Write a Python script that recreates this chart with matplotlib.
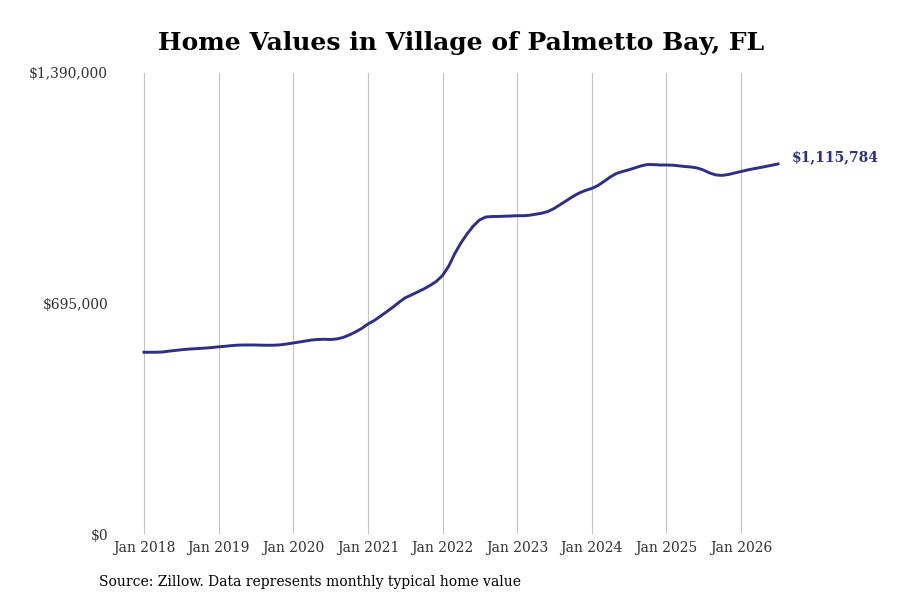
"""
Home value trend for Village of Palmetto Bay, FL.
Line chart of monthly typical home value (Zillow).
"""
from __future__ import annotations

import matplotlib

matplotlib.use("Agg")
import matplotlib.dates as mdates
import matplotlib.pyplot as plt
import pandas as pd

TITLE = "Home Values in Village of Palmetto Bay, FL"
SOURCE = "Source: Zillow. Data represents monthly typical home value"
LINE_COLOR = "#2e2e88"
GRID_COLOR = "#c4c4c4"
FIG_SIZE = (9, 6)

START_MONTH = "2018-01-01"

# monthly typical home value, thousands of dollars, Jan 2018 onward
VALUES_2018 = [548.0, 548.0, 548.0, 548.8, 551.2, 553.3, 555.4, 557.2, 558.4, 559.6, 560.8, 562.3]
VALUES_2019 = [564.4, 565.9, 567.8, 569.3, 569.9, 569.9, 569.9, 569.3, 569.0, 569.3, 570.5, 572.9]
VALUES_2020 = [575.9, 578.9, 581.9, 585.0, 586.5, 587.1, 586.5, 588.0, 592.5, 600.0, 609.1, 619.6]
VALUES_2021 = [633.2, 643.7, 655.8, 669.4, 682.9, 698.0, 711.6, 720.6, 729.7, 738.7, 749.3, 761.3]
VALUES_2022 = [779.4, 808.1, 844.3, 877.4, 904.6, 928.7, 946.8, 955.8, 957.3, 957.3, 958.2, 958.8]
VALUES_2023 = [959.7, 959.7, 961.0, 964.0, 967.3, 972.4, 981.4, 993.5, 1005.6, 1017.6, 1028.2, 1035.7]
VALUES_2024 = [1041.8, 1050.8, 1062.9, 1076.4, 1087.0, 1093.0, 1098.1, 1104.2, 1110.2, 1114.1, 1113.8, 1112.6]
VALUES_2025 = [1112.6, 1112.0, 1110.2, 1108.1, 1106.6, 1103.6, 1097.5, 1088.5, 1082.5, 1081.3, 1084.0, 1088.5]
VALUES_2026 = [1093.0, 1097.5, 1101.0, 1104.5, 1108.0, 1112.0, 1115.784]

Y_TICKS = [0, 695_000, 1_390_000]
Y_TICK_LABELS = ["$0", "$695,000", "$1,390,000"]
X_TICK_YEARS = list(range(2018, 2027))


def build_series() -> pd.Series:
    values = (
        VALUES_2018 + VALUES_2019 + VALUES_2020 + VALUES_2021 + VALUES_2022
        + VALUES_2023 + VALUES_2024 + VALUES_2025 + VALUES_2026
    )
    dates = pd.date_range(START_MONTH, periods=len(values), freq="MS")
    return pd.Series([v * 1000 for v in values], index=dates)


def plot_home_values(series: pd.Series, output_path: str = "out.png") -> plt.Figure:
    plt.rcParams["font.family"] = ["DejaVu Serif"]

    fig = plt.figure(figsize=FIG_SIZE, dpi=100)
    # axes box in pixels: left 115, right 790, top 73, bottom 534
    ax = fig.add_axes([115 / 900, 1 - 534 / 600, (790 - 115) / 900, (534 - 73) / 600])

    ax.plot(series.index, series.values, color=LINE_COLOR, linewidth=2.1)

    # Jan 2018 sits at px 144, Jan 2026 at px 741
    x0 = mdates.date2num(pd.Timestamp("2018-01-01"))
    x1 = mdates.date2num(pd.Timestamp("2026-01-01"))
    per_px = (x1 - x0) / (741 - 144)
    ax.set_xlim(x0 - (144 - 115) * per_px, x1 + (790 - 741) * per_px)
    ax.set_ylim(Y_TICKS[0], Y_TICKS[-1])

    tick_dates = [pd.Timestamp(f"{y}-01-01") for y in X_TICK_YEARS]
    ax.set_xticks(tick_dates)
    ax.set_xticklabels([f"Jan {y}" for y in X_TICK_YEARS])
    ax.set_yticks(Y_TICKS)
    ax.set_yticklabels(Y_TICK_LABELS)
    ax.tick_params(axis="both", length=0, labelsize=10, colors="#333333")
    ax.tick_params(axis="x", pad=5)
    ax.tick_params(axis="y", pad=5)

    ax.grid(axis="x", color=GRID_COLOR, linewidth=0.8)
    ax.grid(axis="y", visible=False)
    for spine in ax.spines.values():
        spine.set_visible(False)

    last_date = series.index[-1]
    last_value = series.values[-1]
    ax.annotate(
        f"${last_value:,.0f}",
        xy=(last_date, last_value),
        xytext=(10, 4.5),
        textcoords="offset points",
        ha="left",
        va="center",
        color=LINE_COLOR,
        fontsize=10,
        fontweight="bold",
        annotation_clip=False,
    )

    fig.text(461 / 900, 1 - 43 / 600, TITLE, ha="center", va="center",
             fontsize=18, fontweight="bold", color="black")
    fig.text(99 / 900, 1 - 582 / 600, SOURCE, ha="left", va="center",
             fontsize=10, color="black")

    fig.savefig(output_path, dpi=100, facecolor="white")
    plt.close(fig)
    return fig


if __name__ == "__main__":
    plot_home_values(build_series())
